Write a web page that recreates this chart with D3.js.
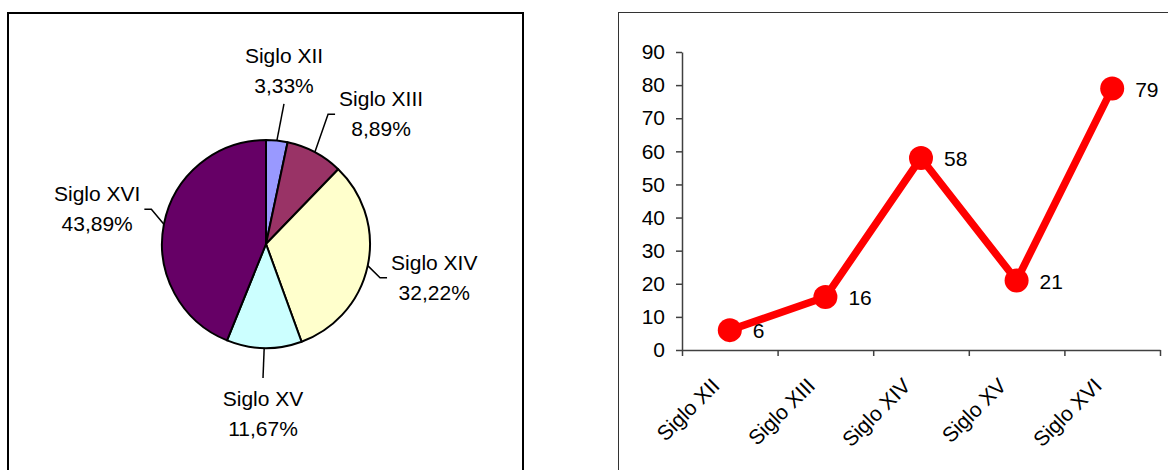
<!DOCTYPE html>
<html>
<head>
<meta charset="utf-8">
<script src="https://cdn.jsdelivr.net/npm/d3@7"></script>
<style>
  body { margin: 0; background: #fff; }
  svg text { font-family: "Liberation Sans", Arial, sans-serif; font-size: 21px; fill: #000; }
</style>
</head>
<body>
<div id="chart"></div>
<script>
// datos
const siglos = ["Siglo XII", "Siglo XIII", "Siglo XIV", "Siglo XV", "Siglo XVI"];
const obras = [6, 16, 58, 21, 79];
const colores = ["#9999ff", "#993366", "#ffffcc", "#ccffff", "#660066"];
const y_ticks = [0, 10, 20, 30, 40, 50, 60, 70, 80, 90];

const width = 1168, height = 470;
const svg = d3.select("#chart")
  .append("svg")
    .attr("width", width)
    .attr("height", height);

// marcos de los dos graficos
svg.append("rect")
  .attr("x", 8).attr("y", 13)
  .attr("width", 515).attr("height", 490)
  .attr("fill", "none")
  .attr("stroke", "#000")
  .attr("stroke-width", 2);
svg.append("rect")
  .attr("x", 618.5).attr("y", 12.5)
  .attr("width", 620).attr("height", 490)
  .attr("fill", "none")
  .attr("stroke", "#333")
  .attr("stroke-width", 1);

// ---- tarta ----
const pie_cx = 266, pie_cy = 244, radius = 104, label_r = 172;
const total = d3.sum(obras);
const pct = v => (v / total * 100).toFixed(2).replace(".", ",") + "%";
const rows = siglos.map((s, i) => ({name: s, value: obras[i], color: colores[i]}));

const pie = d3.pie().sort(null).value(d => d.value);
const slices = pie(rows);
const arc = d3.arc().innerRadius(0).outerRadius(radius);

const gp = svg.append("g").attr("transform", `translate(${pie_cx},${pie_cy})`);
gp.selectAll("path")
  .data(slices)
  .enter()
  .append("path")
    .attr("d", arc)
    .attr("fill", d => d.data.color)
    .attr("stroke", "#000")
    .attr("stroke-width", 2)
    .attr("stroke-linejoin", "round");

// Excel empuja la etiqueta XIII para que no choque con la XII
const nudge = {"Siglo XIII": 14};
slices.forEach(d => {
  const mid = (d.startAngle + d.endAngle) / 2;
  const la = mid + (nudge[d.data.name] || 0) * Math.PI / 180;
  const lx = Math.sin(la) * label_r, ly = -Math.cos(la) * label_r;
  const t = gp.append("text").attr("text-anchor", "middle");
  t.append("tspan").attr("x", lx).attr("y", ly - 10).text(d.data.name);
  t.append("tspan").attr("x", lx).attr("y", ly + 20).text(pct(d.value));
  const w = t.node().getBBox().width;

  const ex = Math.sin(mid) * radius, ey = -Math.cos(mid) * radius;
  let pts;
  if (Math.abs(Math.sin(la)) > 0.6) {
    const side = Math.sign(Math.sin(la));
    const bx = lx - side * (w / 2 + 4);
    pts = [[ex, ey], [bx - side * 7, ly - 2], [bx, ly - 2]];
  } else if (Math.cos(la) > 0) {
    pts = [[ex, ey], [lx, ly + 31]];
  } else {
    pts = [[ex, ey], [lx, ly - 38]];
  }
  gp.append("path")
    .attr("d", d3.line()(pts))
    .attr("fill", "none")
    .attr("stroke", "#000")
    .attr("stroke-width", 1.5);
});

// ---- lineas ----
const x = d3.scaleBand().domain(siglos).range([682, 1160]);
const x_edges = d3.scaleLinear().domain([0, siglos.length]).range(x.range());
const y = d3.scaleLinear().domain([0, 90]).range([350, 52]);
const cx = name => x(name) + x.bandwidth() / 2;

svg.append("g")
  .attr("transform", "translate(682,0)")
  .call(d3.axisLeft(y).tickValues(y_ticks).tickSize(6).tickSizeOuter(0).tickPadding(11))
  .call(g => g.selectAll("path, line").attr("stroke", "#404040").attr("stroke-width", 1.5))
  .call(g => g.selectAll("text").attr("font-size", null).attr("font-family", null).attr("fill", "#000"));

svg.append("g")
  .attr("transform", "translate(0,350)")
  .call(d3.axisBottom(x_edges).tickValues(d3.range(siglos.length + 1)).tickFormat(() => "").tickSize(6).tickSizeOuter(0))
  .call(g => g.selectAll("path, line").attr("stroke", "#404040").attr("stroke-width", 1.5));

svg.append("g")
  .selectAll("text")
  .data(siglos)
  .enter()
  .append("text")
    .attr("text-anchor", "end")
    .attr("transform", d => `translate(${cx(d) - 9},387) rotate(-45)`)
    .text(d => d);

svg.append("path")
  .datum(rows)
  .attr("d", d3.line().x(d => cx(d.name)).y(d => y(d.value)))
  .attr("fill", "none")
  .attr("stroke", "#ff0000")
  .attr("stroke-width", 7.5)
  .attr("stroke-linejoin", "round");

svg.selectAll(".punto")
  .data(rows)
  .enter()
  .append("circle")
    .classed("punto", true)
    .attr("cx", d => cx(d.name))
    .attr("cy", d => y(d.value))
    .attr("r", 12)
    .attr("fill", "#ff0000");

svg.selectAll(".valor")
  .data(rows)
  .enter()
  .append("text")
    .classed("valor", true)
    .attr("x", d => cx(d.name) + 23)
    .attr("y", d => y(d.value) + 1)
    .attr("dy", "0.35em")
    .text(d => d.value);
</script>
</body>
</html>
